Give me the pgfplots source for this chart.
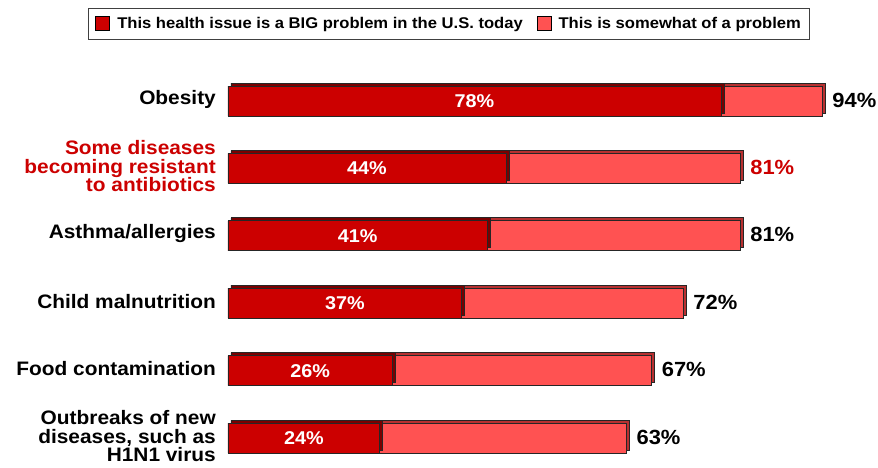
\documentclass[border=0pt]{standalone}
\usepackage{fontspec}
\setmainfont{Liberation Sans}
\newfontfamily\labfont[FakeStretch=1.07]{Liberation Sans}
\usepackage{pgfplots}
\usepackage{pgfplotstable}
\pgfplotsset{compat=1.18}
\definecolor{cdark}{HTML}{CC0000}
\definecolor{clight}{HTML}{FF5252}
\definecolor{cdarktop}{HTML}{7A0000}
\definecolor{clighttop}{HTML}{B83030}
\pgfplotstableread{
y a b t
0 78 16 94\%
1 44 37 \textcolor{cdark}{81\%}
2 41 40 81\%
3 37 35 72\%
4 26 41 67\%
5 24 39 63\%
}\datatab
\begin{document}
\begin{tikzpicture}
\path[use as bounding box] (0,0) rectangle (878pt,-467pt);
\begin{axis}[
  at={(228pt,-67.3pt)}, anchor=north west,
  scale only axis, width=632pt, height=397.7pt,
  xbar stacked, bar width=30pt,
  xmin=0, xmax=100, ymin=-0.5, ymax=5.4, y dir=reverse,
  axis line style={draw=none}, major tick length=0pt,
  xtick=\empty,
  ytick={0,1,2,3,4,5},
  yticklabels={Obesity,{\textcolor{cdark}{Some diseases}\\\textcolor{cdark}{becoming resistant}\\\textcolor{cdark}{to antibiotics}},Asthma/allergies,Child malnutrition,Food contamination,{Outbreaks of new\\diseases, such as\\H1N1 virus}},
  yticklabel style={align=right, font=\labfont\fontsize{19.5}{18.5}\selectfont\bfseries, inner sep=0pt, xshift=-12pt, yshift=2pt},
  legend image code/.code={\draw[#1] (0pt,-6pt) rectangle (14pt,8pt); \path (19pt,0pt);},
  legend columns=2,
  legend style={at={(0.35,1.149)}, anchor=north, draw=black!75, line width=1pt,
    font=\labfont\fontsize{15.5}{18}\selectfont\bfseries, inner xsep=7pt, inner ysep=7pt,
    /tikz/every even column/.append style={column sep=12pt}},
  legend cell align=left,
]
\addlegendimage{fill=cdark, draw=black, line width=0.8pt}
\addlegendentry{This health issue is a BIG problem in the U.S. today}
\addlegendimage{fill=clight, draw=black, line width=0.8pt}
\addlegendentry{This is somewhat of a problem}
\addplot[forget plot, fill=cdark, draw=black!85, line width=0.8pt,
  preaction={fill=cdarktop, draw=black!85, line width=0.8pt, transform canvas={shift={(3pt,3pt)}}},
  point meta=explicit,
  nodes near coords={\pgfmathprintnumber[assume math mode=true]{\pgfplotspointmeta}\%},
  every node near coord/.append style={anchor=center, text=white, font=\labfont\fontsize{18.5}{20}\selectfont\bfseries}
] table[x=a, y=y, meta=a] {\datatab};
\addplot[forget plot, fill=clight, draw=black!85, line width=0.8pt,
  preaction={fill=clighttop, draw=black!85, line width=0.8pt, transform canvas={shift={(3pt,3pt)}}},
  point meta=explicit symbolic,
  visualization depends on={\thisrow{b} \as \segb},
  nodes near coords={\pgfplotspointmeta},
  every node near coord/.append style={anchor=west, inner sep=0pt, xshift={\segb*3.16pt+10pt}, yshift=1pt, text=black, font=\labfont\fontsize{20.5}{21}\selectfont\bfseries}
] table[x=b, y=y, meta=t] {\datatab};
\end{axis}
\end{tikzpicture}
\end{document}
